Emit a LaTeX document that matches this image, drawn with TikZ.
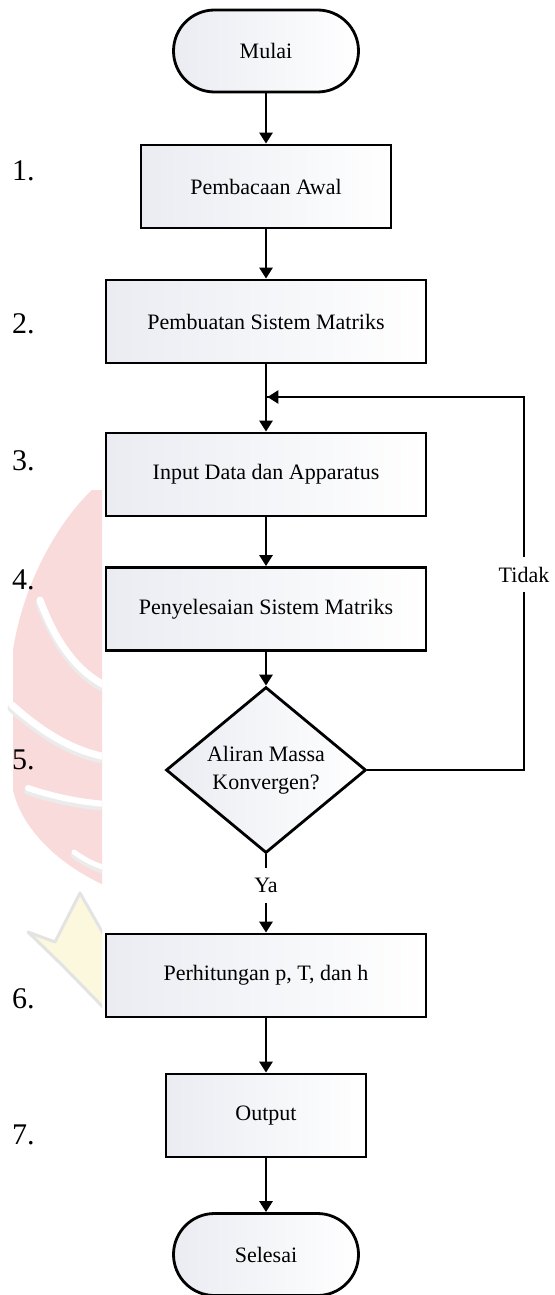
\documentclass[tikz,border=0pt]{standalone}
\usepackage{fontspec}
\setmainfont{Liberation Serif}
\usetikzlibrary{shapes.geometric,arrows.meta}

\definecolor{boxtint}{RGB}{234,236,242}
\definecolor{flamepink}{RGB}{247,200,200}
\definecolor{crownyellow}{RGB}{251,245,205}
\definecolor{crownedge}{RGB}{212,212,212}

\tikzset{
  flow/.style={draw=black, line width=2.8pt, left color=boxtint, right color=white,
               font=\fontsize{22}{28}\selectfont, inner sep=0pt},
  procbox/.style={flow, rectangle, minimum height=83pt},
  termbox/.style={flow, rectangle, rounded corners=41pt, minimum width=185pt, minimum height=82pt},
  decbox/.style={flow, diamond, minimum width=200pt, minimum height=132pt, align=center},
  link/.style={line width=2.8pt, -{Triangle[length=11pt,width=13pt]}},
  plainlink/.style={line width=2.8pt},
  steplabel/.style={anchor=base west, inner sep=0pt, font=\fontsize{30}{30}\selectfont},
  branchlabel/.style={fill=white, inner sep=3pt, minimum height=35pt,
                      font=\fontsize{22}{28}\selectfont}
}

\begin{document}
\begin{tikzpicture}[x=1pt, y=-1pt]
  \useasboundingbox (0,0) rectangle (554,1295);
  \fill[white] (0,0) rectangle (554,1295);

  % faint emblem in the left margin
  \begin{scope}[opacity=0.65, transparency group]
    \clip (0,480) rectangle (102,1040);
    \fill[flamepink]
      (92,490) .. controls (60,520) and (24,580) .. (13,650)
      -- (13,790) .. controls (22,830) and (60,865) .. (104,885)
      -- (104,490) -- cycle;
    \begin{scope}[line cap=round]
      \draw[crownedge!70, line width=9pt] (40,603) .. controls (55,643) and (75,673) .. (106,689);
      \draw[white, line width=7pt] (40,600) .. controls (55,640) and (75,670) .. (106,686);
      \draw[crownedge!70, line width=9pt] (12,708) .. controls (40,733) and (70,753) .. (106,760);
      \draw[white, line width=7pt] (12,705) .. controls (40,730) and (70,750) .. (106,757);
      \draw[crownedge!70, line width=8pt] (28,791) .. controls (55,800) and (80,805) .. (106,807);
      \draw[white, line width=6pt] (28,788) .. controls (55,797) and (80,802) .. (106,804);
      \draw[crownedge!70, line width=7pt] (74,855) .. controls (85,863) and (95,868) .. (106,871);
      \draw[white, line width=5pt] (74,852) .. controls (85,860) and (95,865) .. (106,868);
    \end{scope}
    \filldraw[fill=crownyellow, draw=crownedge, line width=3pt, line join=round]
      (28,932) -- (55,942) -- (80,893) -- (104,935) -- (104,1008) -- (62,965) -- cycle;
  \end{scope}

  % flowchart nodes
  \node[termbox] (start) at (266,51) {Mulai};
  \node[procbox, minimum width=250pt] (b1) at (266,186.5) {Pembacaan Awal};
  \node[procbox, minimum width=320pt] (b2) at (266,321.5) {Pembuatan Sistem Matriks};
  \node[procbox, minimum width=320pt] (b3) at (266,474.5) {Input Data dan Apparatus};
  \node[procbox, minimum width=320pt] (b4) at (266,609) {Penyelesaian Sistem Matriks};
  \node[decbox] (dec) at (266,770) {Aliran Massa\\Konvergen?};
  \node[procbox, minimum width=320pt] (b6) at (266,975.5) {Perhitungan p, T, dan h};
  \node[procbox, minimum width=200pt] (b7) at (266,1115.5) {Output};
  \node[termbox] (stop) at (266,1254.5) {Selesai};

  % step numbers
  \node[steplabel] (n1) at (12,180) {1.};
  \node[steplabel] (n2) at (12,333) {2.};
  \node[steplabel] (n3) at (12,470) {3.};
  \node[steplabel] (n4) at (12,589) {4.};
  \node[steplabel] (n5) at (12,769) {5.};
  \node[steplabel] (n6) at (12,1008) {6.};
  \node[steplabel] (n7) at (12,1144) {7.};

  % connectors
  \coordinate (loopR) at (524,770);
  \coordinate (loopT) at (524,397);
  \coordinate (join) at (267.4,397);

  \draw[link] (start) -- (b1);
  \draw[link] (b1) -- (b2);
  \draw[link] (b2) -- (b3);
  \draw[link] (b3) -- (b4);
  \draw[link] (b4) -- (dec);
  \draw[link] (dec.south) -- (b6.north);
  \draw[link] (b6) -- (b7);
  \draw[link] (b7) -- (stop);
  \draw[plainlink, line join=miter] (dec.east) -- (loopR) -- (loopT) -- (join);
  \draw[link] (loopT) -- (join);

  % branch labels
  \node[branchlabel] (tidak) at (524,574.5) {Tidak};
  \node[branchlabel] (ya) at (266,885.5) {Ya};
\end{tikzpicture}
\end{document}
